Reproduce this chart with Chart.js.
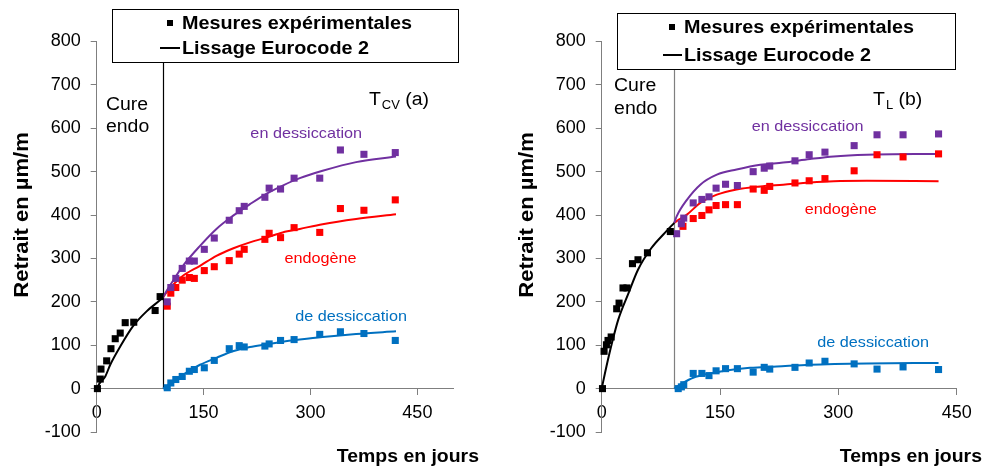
<!DOCTYPE html>
<html>
<head>
<meta charset="utf-8">
<script src="https://cdn.jsdelivr.net/npm/chart.js@4.4.0/dist/chart.umd.min.js"></script>
<style>
  html, body { margin: 0; padding: 0; background: #fff; }
  #wrap { position: relative; width: 986px; height: 468px; }
  .pane { position: absolute; top: 0; width: 493px; height: 468px; }
</style>
</head>
<body>
<div id="wrap">
  <div class="pane" style="left:0"><canvas id="tcv" width="493" height="468"></canvas></div>
  <div class="pane" style="left:493px"><canvas id="tl" width="493" height="468"></canvas></div>
</div>
<script>
// ---- T_CV (a) ----
var tcvCureDays = [1, 5, 6, 14, 20, 26, 33, 40, 52, 82, 89];
var tcvCure = [0, 22, 45, 64, 92, 115, 128, 152, 153, 180, 212];
var tcvDays = [99, 104, 111, 120, 130, 137, 151, 165, 186, 200, 207, 236, 242, 258, 277, 313, 342, 375, 419];
var tcvTotal = [200, 233, 254, 277, 294, 294, 321, 347, 388, 410, 420, 441, 462, 460, 485, 485, 550, 540, 544];
var tcvEndo = [190, 220, 233, 250, 256, 254, 272, 281, 295, 310, 321, 344, 358, 348, 371, 360, 415, 411, 435];
var tcvDry = [2, 13, 21, 28, 40, 44, 48, 65, 92, 99, 96, 98, 103, 111, 113, 125, 131, 127, 111];

var tcvFitCureDays = [0, 4, 12, 19, 33, 51, 70, 89, 93];
var tcvFitCure = [0, 12, 28, 55, 97, 144, 178, 204, 210];
var tcvFitDays = [93, 98, 110, 121, 145, 168, 191, 215, 238, 261, 285, 317, 364, 420];
var tcvFitTotal = [210, 225, 256, 283, 329, 368, 398, 425, 449, 468, 485, 502, 522, 535];
var tcvFitEndo = [210, 222, 244, 260, 283, 306, 323, 337, 348, 360, 368, 379, 391, 402];
var tcvFitDry = [0, 5, 20, 32, 55, 71, 86, 96, 102, 108, 113, 119, 126, 132];

// ---- T_L (b) ----
var tlCureDays = [1, 3, 6, 8, 12, 19, 22, 27, 32, 39, 46, 58, 87];
var tlCure = [0, 86, 101, 111, 119, 184, 197, 232, 232, 288, 297, 313, 362];
var tlTotalDays = [95, 101, 104, 116, 127, 136, 145, 157, 172, 192, 206, 213, 245, 263, 283, 320, 349, 382, 427];
var tlTotal = [357, 380, 393, 428, 436, 442, 462, 471, 468, 500, 508, 513, 525, 539, 545, 560, 585, 585, 587];
var tlEndoDays = [103, 116, 127, 136, 145, 157, 172, 192, 206, 213, 245, 263, 283, 320, 349, 382, 427];
var tlEndo = [374, 392, 399, 412, 422, 424, 424, 460, 457, 466, 474, 479, 484, 502, 539, 534, 541];
var tlDryDays = [97, 101, 104, 116, 127, 136, 145, 157, 172, 192, 206, 213, 245, 263, 283, 320, 349, 382, 427];
var tlDry = [0, 4, 9, 35, 35, 30, 41, 46, 46, 38, 49, 45, 49, 59, 63, 57, 45, 50, 44];

var tlFitCureDays = [0, 6, 13, 21, 34, 46, 63, 80, 92];
var tlFitCure = [0, 51, 105, 159, 220, 274, 324, 359, 382];
var tlFitDays = [92, 95, 108, 125, 146, 171, 201, 230, 264, 294, 336, 427];
var tlFitTotal = [382, 397, 435, 470, 493, 505, 516, 521, 529, 535, 539, 541];
var tlFitEndo = [382, 386, 401, 428, 447, 459, 466, 470, 475, 478, 479, 478];
var tlFitDryDays = [92, 103, 116, 137, 158, 188, 222, 264, 336, 427];
var tlFitDry = [0, 13, 25, 35, 42, 48, 51, 55, 58, 59];

var yTicks = [-100, 0, 100, 200, 300, 400, 500, 600, 700, 800];

var FONT = "'Liberation Sans', Arial, sans-serif";
var PURPLE = '#7030A0', RED = '#FF0000', BLUE = '#0070C0', AXIS = '#7f7f7f';
var SX = 1.08; // text in the picture is a bit wide

function pts(xs, ys) {
  return xs.map(function (x, i) { return { x: x, y: ys[i] }; });
}

function marks(xs, ys, color) {
  return {
    data: pts(xs, ys), pointStyle: 'rect', pointRadius: 5, pointHoverRadius: 5,
    backgroundColor: color, borderWidth: 0, clip: false
  };
}

function fit(xs, ys, color) {
  return {
    data: pts(xs, ys), showLine: true, borderColor: color, borderWidth: 2,
    pointRadius: 0, cubicInterpolationMode: 'monotone', clip: false
  };
}

function txt(ctx, s, x, y, size, color, align, bold, sx) {
  sx = sx || SX;
  ctx.save();
  ctx.font = (bold ? 'bold ' : '') + size + 'px ' + FONT;
  ctx.fillStyle = color;
  ctx.textBaseline = 'alphabetic';
  var w = ctx.measureText(s).width * sx;
  var x0 = align === 'center' ? x - w / 2 : (align === 'right' ? x - w : x);
  ctx.translate(x0, y);
  ctx.scale(sx, 1);
  ctx.fillText(s, 0, 0);
  ctx.restore();
  return w;
}

// extras: cure line, labels, boxed legend, axis titles
function decor(d) {
  return {
    id: 'decor',
    beforeDatasetsDraw: function (chart) {
      var ctx = chart.ctx, x = chart.scales.x, y = chart.scales.y;
      var px = Math.round(x.getPixelForValue(d.cure)) + 0.5;
      ctx.save();
      ctx.strokeStyle = d.cureColor;
      ctx.lineWidth = 1.2;
      ctx.beginPath();
      ctx.moveTo(px, y.getPixelForValue(0));
      ctx.lineTo(px, chart.chartArea.top);
      ctx.stroke();
      ctx.restore();
    },
    afterDraw: function (chart) {
      var ctx = chart.ctx, x = chart.scales.x, y = chart.scales.y;
      function X(v) { return x.getPixelForValue(v); }
      function Y(v) { return y.getPixelForValue(v); }

      txt(ctx, 'Cure', X(d.cureText[0]), Y(d.cureText[1]), 18, '#000');
      txt(ctx, 'endo', X(d.cureText[0]), Y(d.cureText[2]), 18, '#000');

      var tx = X(d.title[0]), ty = Y(d.title[1]);
      tx += txt(ctx, 'T', tx, ty, 18, '#000');
      tx += txt(ctx, d.sub, tx + 1, ty + 4, 12, '#000') + 1;
      txt(ctx, ' ' + d.tag, tx, ty, 18, '#000');

      d.labels.forEach(function (l) {
        txt(ctx, l[0], X(l[1]), Y(l[2]) + 5, 15, l[3], 'center');
      });

      // legend box
      var b = d.box;
      ctx.save();
      ctx.fillStyle = '#fff';
      ctx.fillRect(b[0], b[1], b[2], b[3]);
      ctx.strokeStyle = '#000';
      ctx.lineWidth = 1;
      ctx.strokeRect(b[0] + 0.5, b[1] + 0.5, b[2], b[3]);
      ctx.fillStyle = '#000';
      ctx.fillRect(d.legX - 3, d.legY[0] - 3, 6, 6);
      ctx.lineWidth = 2;
      ctx.beginPath();
      ctx.moveTo(d.legLine[0], d.legY[1]);
      ctx.lineTo(d.legLine[1], d.legY[1]);
      ctx.stroke();
      ctx.restore();
      txt(ctx, 'Mesures expérimentales', d.legText, d.legY[0] + 6, 18, '#000', 'left', true, 1.1);
      txt(ctx, 'Lissage Eurocode 2', d.legText, d.legY[1] + 6, 18, '#000', 'left', true, 1.1);

      // axis titles
      txt(ctx, 'Temps en jours', d.xTitle[0], d.xTitle[1], 18, '#000', 'right', true);
      ctx.save();
      ctx.translate(d.yTitle[0], d.yTitle[1]);
      ctx.rotate(-Math.PI / 2);
      ctx.scale(1.1, 1);
      ctx.font = 'bold 20px ' + FONT;
      ctx.fillStyle = '#000';
      ctx.textAlign = 'center';
      ctx.textBaseline = 'middle';
      ctx.fillText('Retrait en µm/m', 0, 0);
      ctx.restore();
    }
  };
}

function build(id, sets, xMax, yWidth, padRight, d) {
  return new Chart(document.getElementById(id), {
    type: 'scatter',
    data: { datasets: sets },
    options: {
      responsive: false,
      animation: false,
      events: [],
      layout: { padding: { left: 0, top: 41.5, right: padRight, bottom: 36 } },
      plugins: { legend: { display: false }, tooltip: { enabled: false } },
      scales: {
        x: {
          type: 'linear', position: { y: 0 }, min: 0, max: xMax,
          border: { color: AXIS, width: 1 },
          grid: { drawOnChartArea: false, color: AXIS, tickLength: 6 },
          ticks: { stepSize: 150, includeBounds: false, padding: 8, color: '#000', font: { family: FONT, size: 18 } },
          afterFit: function (s) { s.height = 0; }
        },
        y: {
          type: 'linear', position: 'left', min: -100, max: 800,
          border: { color: AXIS, width: 1 },
          grid: { drawOnChartArea: false, color: AXIS, tickLength: 6 },
          afterBuildTicks: function (s) { s.ticks = yTicks.map(function (v) { return { value: v }; }); },
          ticks: { padding: 10, color: '#000', font: { family: FONT, size: 18 } },
          afterFit: function (s) { s.width = yWidth; }
        }
      }
    },
    plugins: [decor(d)]
  });
}

build('tcv', [
  marks(tcvCureDays, tcvCure, '#000'),
  marks(tcvDays, tcvTotal, PURPLE),
  marks(tcvDays, tcvEndo, RED),
  marks(tcvDays, tcvDry, BLUE),
  fit(tcvFitCureDays, tcvFitCure, '#000'),
  fit(tcvFitDays, tcvFitTotal, PURPLE),
  fit(tcvFitDays, tcvFitEndo, RED),
  fit(tcvFitDays, tcvFitDry, BLUE)
], 500, 96.7, 40, {
  cure: 93, cureColor: '#000',
  cureText: [13, 643, 592],
  title: [382, 654], sub: 'CV', tag: '(a)',
  labels: [
    ['en dessiccation', 294, 590, PURPLE],
    ['endogène', 314, 302, RED],
    ['de dessiccation', 357, 168, BLUE]
  ],
  box: [112, 9, 346, 53], legX: 170, legY: [23, 48], legLine: [160, 180], legText: 182,
  xTitle: [479, 462], yTitle: [22, 215]
});

build('tl', [
  marks(tlCureDays, tlCure, '#000'),
  marks(tlTotalDays, tlTotal, PURPLE),
  marks(tlEndoDays, tlEndo, RED),
  marks(tlDryDays, tlDry, BLUE),
  fit(tlFitCureDays, tlFitCure, '#000'),
  fit(tlFitDays, tlFitTotal, PURPLE),
  fit(tlFitDays, tlFitEndo, RED),
  fit(tlFitDryDays, tlFitDry, BLUE)
], 450, 108.7, 29.3, {
  cure: 92, cureColor: AXIS,
  cureText: [15.7, 687, 634],
  title: [344, 654], sub: 'L', tag: '(b)',
  labels: [
    ['en dessiccation', 261, 606, PURPLE],
    ['endogène', 303, 415, RED],
    ['de dessiccation', 344, 108, BLUE]
  ],
  box: [124, 13, 338, 56], legX: 179, legY: [27, 55], legLine: [170, 189], legText: 191,
  xTitle: [489, 462], yTitle: [34, 215]
});
</script>
</body>
</html>
